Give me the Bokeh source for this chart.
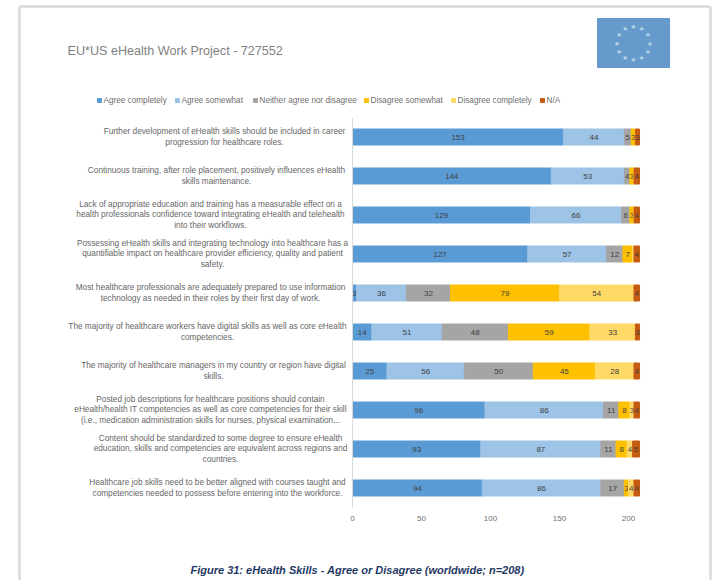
import math

from bokeh.embed import file_html
from bokeh.models import ColumnDataSource, FixedTicker, Range1d
from bokeh.plotting import figure
from bokeh.resources import INLINE
from bokeh.core.properties import value

WIDTH, HEIGHT = 714, 580
FRAME_LEFT, FRAME_RIGHT = 352, 642
FRAME_TOP, FRAME_BOTTOM = 117, 507

statements = [
    "Further development of eHealth skills should be included in career\nprogression for healthcare roles.",
    "Continuous training, after role placement, positively influences eHealth\nskills maintenance.",
    "Lack of appropriate education and training has a measurable effect on a\nhealth professionals confidence toward integrating eHealth and telehealth\ninto their workflows.",
    "Possessing eHealth skills and integrating technology into healthcare has a\nquantifiable impact on healthcare provider efficiency, quality and patient\nsafety.",
    "Most healthcare professionals are adequately prepared to use information\ntechnology as needed in their roles by their first day of work.",
    "The majority of healthcare workers have digital skills as well as core eHealth\ncompetencies.",
    "The majority of healthcare managers in my country or region have digital\nskills.",
    "Posted job descriptions for healthcare positions should contain\neHealth/health IT competencies as well as core competencies for their skill\n(i.e., medication administration skills for nurses, physical examination...",
    "Content should be standardized to some degree to ensure eHealth\neducation, skills and competencies are equivalent across regions and\ncountries.",
    "Healthcare job skills need to be better aligned with courses taught and\ncompetencies needed to possess before entering into the workforce.",
]
statement_centres = [224, 216, 210, 212, 210, 207, 213, 210, 220, 217]

series_names = ["Agree completely", "Agree somewhat", "Neither agree nor disagree",
                "Disagree somewhat", "Disagree completely", "N/A"]
series_colors = ["#5B9BD5", "#9DC3E6", "#A5A5A5", "#FFC000", "#FFD966", "#C55A11"]
legend_marker_x = [99, 177, 255, 366, 453, 542]

agree_completely = [153, 144, 129, 127, 3, 14, 25, 96, 93, 94]
agree_somewhat = [44, 53, 66, 57, 36, 51, 56, 86, 87, 86]
neither = [5, 4, 6, 12, 32, 48, 50, 11, 11, 17]
disagree_somewhat = [3, 3, 3, 7, 79, 59, 45, 8, 8, 3]
disagree_completely = [0, 0, 0, 1, 54, 33, 28, 3, 4, 4]
not_applicable = [3, 4, 4, 4, 4, 3, 4, 4, 5, 4]
all_series = [agree_completely, agree_somewhat, neither,
              disagree_somewhat, disagree_completely, not_applicable]

x_ticks = [0, 50, 100, 150, 200]

page_title = "EU*US eHealth Work Project - 727552"
figure_caption = "Figure 31: eHealth Skills - Agree or Disagree (worldwide; n=208)"

rows = list(range(len(statements)))

p = figure(
    width=WIDTH, height=HEIGHT, output_backend="svg", toolbar_location=None,
    x_range=Range1d(0, 290 / 1.38),
    y_range=Range1d(len(rows) - 0.5, -0.5),
    min_border_left=FRAME_LEFT, min_border_right=WIDTH - FRAME_RIGHT,
    min_border_top=FRAME_TOP, min_border_bottom=HEIGHT - FRAME_BOTTOM,
    outline_line_color=None, background_fill_color=None, border_fill_color="white",
)
# Page-pixel coordinates for everything that sits outside the plotting area
p.extra_x_ranges["page"] = Range1d(FRAME_LEFT, FRAME_RIGHT)
p.extra_y_ranges["page"] = Range1d(FRAME_BOTTOM, FRAME_TOP)

p.xgrid.visible = False
p.ygrid.visible = False

p.xaxis.ticker = FixedTicker(ticks=x_ticks)
p.xaxis.axis_line_color = None
p.xaxis.major_tick_line_color = None
p.xaxis.minor_tick_line_color = None
p.xaxis.major_label_text_font = "Liberation Sans"
p.xaxis.major_label_text_font_size = "8px"
p.xaxis.major_label_text_color = "#6f6f6f"
p.xaxis.major_label_standoff = 2

p.yaxis.ticker = FixedTicker(ticks=[])
p.yaxis.axis_line_color = "#d9d9d9"
p.yaxis.major_tick_line_color = None
p.yaxis.minor_tick_line_color = None

# Stacked bars and their value labels
left = [0] * len(rows)
for name, color, vals in zip(series_names, series_colors, all_series):
    right = [a + b for a, b in zip(left, vals)]
    src = ColumnDataSource(dict(
        y=rows, left=left, right=right,
        mid=[(a + b) / 2 for a, b in zip(left, right)],
        label=[str(v) if v >= 3 else "" for v in vals],
    ))
    p.hbar(y="y", left="left", right="right", height=0.41, color=color, source=src)
    p.text(x="mid", y="y", text="label", source=src, text_align="center",
           text_baseline="middle", text_font=value("Liberation Sans"),
           text_font_size="8px", text_color="#404040")
    left = right


def page_text(x, y, text, size, color, align="center", style="normal", font="Liberation Sans"):
    p.text(x=x, y=y, text=text, text_align=align, text_baseline="middle",
           text_font=value(font), text_font_size=size, text_color=color,
           text_font_style=style, text_line_height=1.12, level="annotation",
           x_range_name="page", y_range_name="page")


# Statements beside each bar, centred within their own text block
row_centres = [FRAME_TOP + 19.5 + 39 * i for i in rows]
page_text(statement_centres, row_centres, statements, "8.25px", "#666666")

# Sheet border
p.segment(x0=[19, 19, 710], y0=[6, 6, 6], x1=[19, 710, 710], y1=[580, 6, 580],
          line_color="#d9d9d9", line_width=2.5, level="annotation",
          x_range_name="page", y_range_name="page")

# Header and caption
page_text([67], [50], [page_title], "12.6px", "#7f7f7f", align="left")
page_text([357], [569], [figure_caption], "11px", "#1F3864", style="bold italic")

# Flag with its ring of twelve stars
p.quad(left=[597], right=[669], top=[18], bottom=[67], color="#6699CC", level="annotation",
       x_range_name="page", y_range_name="page")
star_angles = [math.radians(30 * h) for h in range(12)]
page_text([633 + 16.5 * math.cos(a) for a in star_angles],
          [43 + 16.5 * math.sin(a) for a in star_angles],
          ["★"] * 12, "7px", "#B7D7E8", font="DejaVu Sans")

# Legend row
p.quad(left=[v - 2 for v in legend_marker_x], right=[v + 2 for v in legend_marker_x],
       top=[98] * 6, bottom=[102] * 6, color=series_colors, level="annotation",
       x_range_name="page", y_range_name="page")
page_text([v + 4 for v in legend_marker_x], [100] * 6, series_names, "8.2px", "#6f6f6f", align="left")

open("out.html", "w").write(file_html(p, INLINE))
